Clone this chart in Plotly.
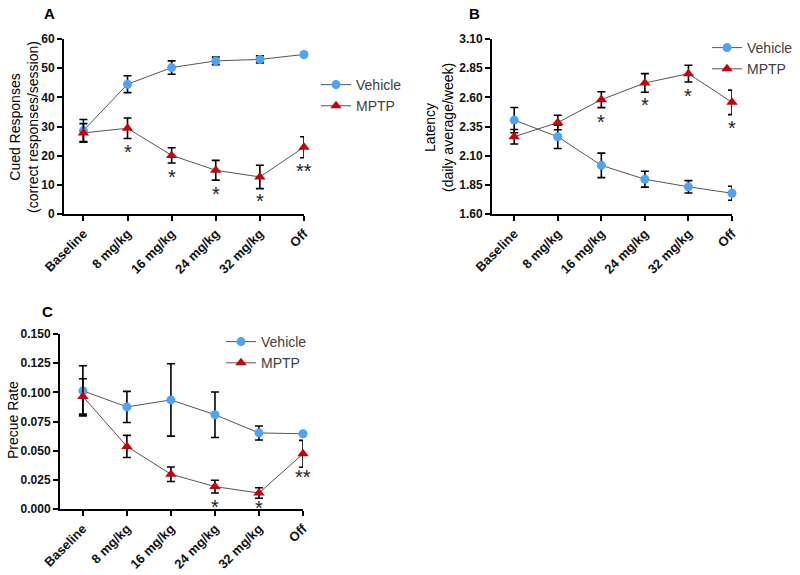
import plotly.graph_objects as go

categories = ["Baseline", "8 mg/kg", "16 mg/kg", "24 mg/kg", "32 mg/kg", "Off"]

# Panel A: Cued responses
a_vehicle = [28.6, 44.5, 50.2, 52.5, 53.0, 54.7]
a_vehicle_err = [3.8, 2.9, 2.3, 1.3, 1.2, 0.4]
a_mptp = [27.8, 29.4, 20.1, 15.0, 12.7, 22.9]
a_mptp_err = [3.2, 3.5, 2.6, 3.4, 4.0, 3.6]
a_star_idx = [1, 2, 3, 4, 5]
a_star_y = [23.0, 14.5, 8.5, 6.0, 16.4]
a_star_txt = ["*", "*", "*", "*", "**"]

# Panel B: Latency
b_vehicle = [2.405, 2.262, 2.017, 1.898, 1.833, 1.778]
b_vehicle_err = [0.108, 0.10, 0.105, 0.068, 0.053, 0.06]
b_mptp = [2.262, 2.384, 2.580, 2.723, 2.803, 2.557]
b_mptp_err = [0.062, 0.062, 0.068, 0.080, 0.072, 0.105]
b_star_idx = [2, 3, 4, 5]
b_star_y = [2.43, 2.573, 2.654, 2.378]
b_star_txt = ["*", "*", "*", "*"]

# Panel C: Precue rate
c_vehicle = [0.1013, 0.0875, 0.0935, 0.0808, 0.0652, 0.0645]
c_vehicle_err = [0.0215, 0.0133, 0.031, 0.0195, 0.006, 0.0005]
c_mptp = [0.0965, 0.0536, 0.0298, 0.0192, 0.0137, 0.0473]
c_mptp_err = [0.0152, 0.0095, 0.0062, 0.0055, 0.0045, 0.0115]
c_star_idx = [3, 4, 5]
c_star_y = [0.0063, 0.0049, 0.0315]
c_star_txt = ["*", "*", "**"]

VEH_COLOR = "#4FA3F4"
MPTP_COLOR = "#C8000A"
LINE_COLOR = "#555555"
FONT = "Liberation Sans, Arial, sans-serif"
W, H = 800, 575

def px_x(v):
    return v / W

def px_y(v):
    return 1 - v / H

fig = go.Figure()

panels = [
    dict(xa="x", ya="y", leg="legend", veh=a_vehicle, veh_e=a_vehicle_err,
         mp=a_mptp, mp_e=a_mptp_err, si=a_star_idx, sy=a_star_y, st=a_star_txt),
    dict(xa="x2", ya="y2", leg="legend2", veh=b_vehicle, veh_e=b_vehicle_err,
         mp=b_mptp, mp_e=b_mptp_err, si=b_star_idx, sy=b_star_y, st=b_star_txt),
    dict(xa="x3", ya="y3", leg="legend3", veh=c_vehicle, veh_e=c_vehicle_err,
         mp=c_mptp, mp_e=c_mptp_err, si=c_star_idx, sy=c_star_y, st=c_star_txt),
]

xs = list(range(len(categories)))
for p in panels:
    fig.add_trace(go.Scatter(
        x=xs, y=p["veh"], xaxis=p["xa"], yaxis=p["ya"], legend=p["leg"],
        name="Vehicle", mode="lines+markers",
        line=dict(color=LINE_COLOR, width=1),
        marker=dict(symbol="circle", size=9, color=VEH_COLOR),
        error_y=dict(type="data", array=p["veh_e"], color="black", thickness=1.6, width=4),
        cliponaxis=False,
    ))
    fig.add_trace(go.Scatter(
        x=xs, y=p["mp"], xaxis=p["xa"], yaxis=p["ya"], legend=p["leg"],
        name="MPTP", mode="lines+markers",
        line=dict(color=LINE_COLOR, width=1),
        marker=dict(symbol="triangle-up", size=10, color=MPTP_COLOR),
        error_y=dict(type="data", array=p["mp_e"], color="black", thickness=1.6, width=4),
        cliponaxis=False,
    ))
    for i, yv, t in zip(p["si"], p["sy"], p["st"]):
        fig.add_annotation(x=i, y=yv, xref=p["xa"], yref=p["ya"], text=t, showarrow=False,
                           font=dict(family=FONT, size=20, color="#222222"),
                           xanchor="center", yanchor="middle", yshift=-5)

axis_common = dict(showline=True, linewidth=2, linecolor="black", ticks="outside",
                   ticklen=5, tickwidth=2, tickcolor="black", showgrid=False,
                   zeroline=False, automargin=False)
xfont = dict(family=FONT, size=13, color="#111111", weight="bold")
yfont = dict(family=FONT, size=12, color="#111111", weight="bold")

def xaxis(domain, anchor, left):
    return dict(axis_common, domain=domain, anchor=anchor, range=[left, 5.0],
                tickvals=xs, ticktext=categories, tickangle=-45, tickfont=xfont)

fig.update_layout(
    template="none",
    width=W, height=H, margin=dict(l=0, r=0, t=0, b=0, pad=0),
    paper_bgcolor="white", plot_bgcolor="white",
    font=dict(family=FONT),
    xaxis=xaxis([px_x(64), px_x(304)], "y", -0.44),
    yaxis=dict(axis_common, domain=[px_y(214), px_y(39)], anchor="x", range=[0, 60],
               tickvals=[0, 10, 20, 30, 40, 50, 60], tickfont=yfont),
    xaxis2=xaxis([px_x(492), px_x(732)], "y2", -0.51),
    yaxis2=dict(axis_common, domain=[px_y(214), px_y(39)], anchor="x2", range=[1.6, 3.1],
                tickvals=[1.60, 1.85, 2.10, 2.35, 2.60, 2.85, 3.10], tickformat=".2f",
                tickfont=yfont),
    xaxis3=xaxis([px_x(60), px_x(303)], "y3", -0.52),
    yaxis3=dict(axis_common, domain=[px_y(509), px_y(334)], anchor="x3", range=[0, 0.15],
                tickvals=[0, 0.025, 0.05, 0.075, 0.1, 0.125, 0.15], tickformat=".3f",
                tickfont=yfont),
    showlegend=True,
)

leg_common = dict(font=dict(family=FONT, size=14, color="#404040"), bgcolor="rgba(0,0,0,0)",
                  itemwidth=30, xanchor="left", yanchor="top", tracegroupgap=0,
                  borderwidth=0)
fig.update_layout(
    legend=dict(leg_common, x=px_x(316), y=px_y(69)),
    legend2=dict(leg_common, x=px_x(707), y=px_y(32)),
    legend3=dict(leg_common, x=px_x(221), y=px_y(326)),
)

# panel letters
for txt, x, y in [("A", 49, 13), ("B", 474, 13), ("C", 47, 311)]:
    fig.add_annotation(x=px_x(x), y=px_y(y), xref="paper", yref="paper", text=txt,
                       showarrow=False, xanchor="center", yanchor="middle",
                       font=dict(family=FONT, size=15, color="black", weight="bold"))

# axis titles
for txt, x, y in [("Cued Responses<br>(correct responses/session)", 24, 127),
                  ("Latency<br>(daily average/week)", 439, 127),
                  ("Precue Rate", 13, 420)]:
    fig.add_annotation(x=px_x(x), y=px_y(y), xref="paper", yref="paper", text=txt,
                       showarrow=False, textangle=-90, xanchor="center", yanchor="middle",
                       font=dict(family=FONT, size=14, color="black"))

fig.write_html("out.html", config={"displayModeBar": False},
               post_script="document.body.style.margin='0';document.body.style.overflow='hidden';")
